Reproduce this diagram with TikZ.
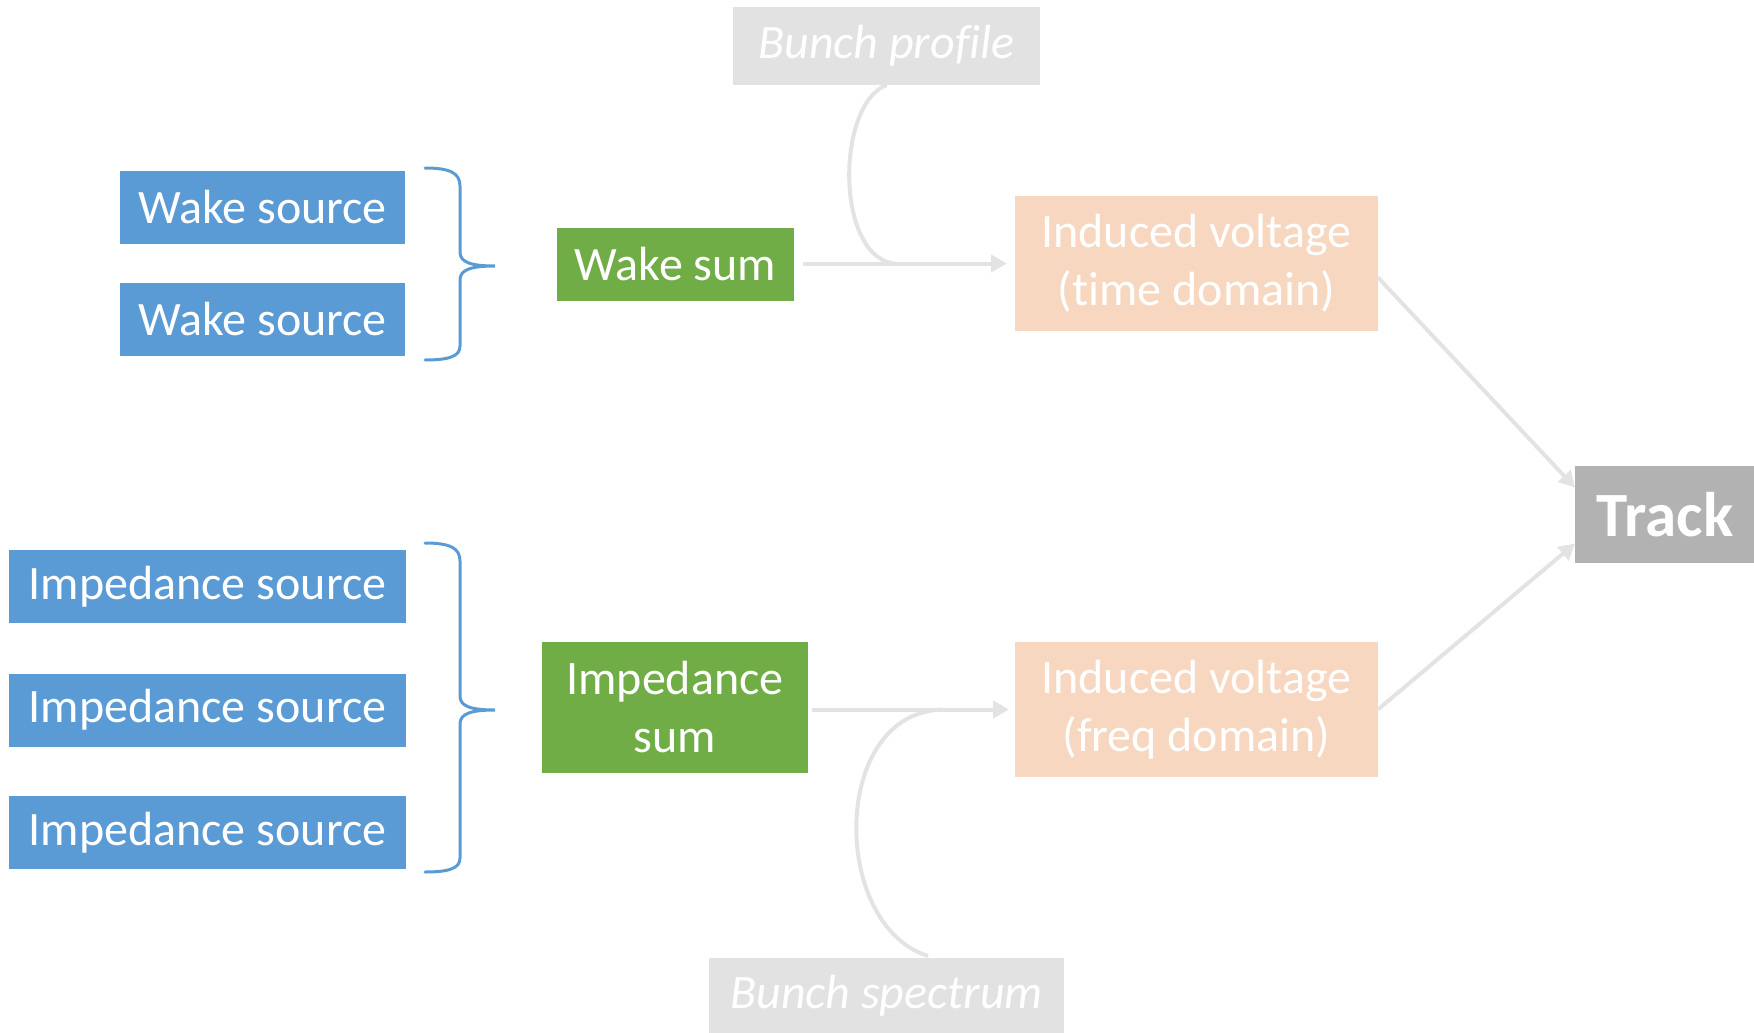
\documentclass[tikz,border=0pt]{standalone}
\usepackage{fontspec}
\setmainfont{Carlito}[Ligatures=NoCommon]
\usetikzlibrary{arrows.meta}
\definecolor{srcblue}{HTML}{5B9BD5}
\definecolor{sumgreen}{HTML}{70AD47}
\definecolor{voltpeach}{HTML}{F8D7C1}
\definecolor{bunchgray}{HTML}{E2E2E2}
\definecolor{trackgray}{HTML}{B2B2B2}
\definecolor{flowgray}{HTML}{E3E3E3}
\tikzset{
  box/.style={inner sep=0pt, outer sep=0pt, text=white, align=center,
    font=\fontsize{48}{58}\selectfont},
  srcbox/.style={box, fill=srcblue},
  sumbox/.style={box, fill=sumgreen},
  voltbox/.style={box, fill=voltpeach},
  bunchbox/.style={box, fill=bunchgray, font=\fontsize{48}{58}\selectfont\itshape},
  trackbox/.style={box, fill=trackgray, font=\fontsize{63}{70}\selectfont\bfseries},
  brace/.style={draw=srcblue, line width=3pt, line cap=round},
  flow/.style={draw=flowgray, line width=4pt},
  flowarrow/.style={flow, -{Triangle[length=16pt,width=17pt]}},
}
\begin{document}
\begin{tikzpicture}[x=1pt, y=-1pt]
\useasboundingbox (0,0) rectangle (1754,1033);

% source boxes
\node[srcbox, minimum width=285pt, minimum height=73pt] (ws1) at (262.5,207.5) {Wake source};
\node[srcbox, minimum width=285pt, minimum height=73pt] (ws2) at (262.5,319.5) {Wake source};
\node[srcbox, minimum width=397pt, minimum height=73pt] (is1) at (207.5,586.5) {Impedance source};
\node[srcbox, minimum width=397pt, minimum height=73pt] (is2) at (207.5,710) {Impedance source};
\node[srcbox, minimum width=397pt, minimum height=73pt] (is3) at (207.5,832.5) {Impedance source};

% sums
\node[sumbox, minimum width=237pt, minimum height=73pt] (wsum) at (675.5,264.5) {Wake sum};
\node[sumbox, minimum width=266pt, minimum height=131pt] (isum) at (675,707.5) {Impedance\\sum};

% induced voltages
\node[voltbox, minimum width=363pt, minimum height=135pt] (ivt) at (1196.5,263.5) {Induced voltage\\(time domain)};
\node[voltbox, minimum width=363pt, minimum height=135pt] (ivf) at (1196.5,709.5) {Induced voltage\\(freq domain)};

% bunch inputs
\node[bunchbox, minimum width=307pt, minimum height=78pt] (bp) at (886.5,46) {Bunch profile};
\node[bunchbox, minimum width=355pt, minimum height=76pt] (bs) at (886.5,996) {Bunch spectrum};

% track
\node[trackbox, minimum width=180pt, minimum height=97pt] (trk) at (1665,514.5) {Track};

% braces
\draw[brace] (425,168) .. controls (450,168) and (460,173) .. (460,186)
  -- (460,252) .. controls (460,262) and (470,266) .. (495,266)
  .. controls (470,266) and (460,270) .. (460,280)
  -- (460,346) .. controls (460,356) and (450,360) .. (425,360);
\draw[brace] (425,543) .. controls (450,543) and (460,548) .. (460,561)
  -- (460,696) .. controls (460,706) and (470,710) .. (495,710)
  .. controls (470,710) and (460,714) .. (460,724)
  -- (460,858) .. controls (460,868) and (450,872) .. (425,872);

% flow into the induced voltages
\coordinate (bpjoin) at (898,264);
\coordinate (bsjoin) at (943,709.5);
\draw[flowarrow] ([xshift=9pt]wsum.east |- ivt.west) -- ([xshift=-8pt]ivt.west);
\draw[flow] (bp.south) .. controls (835,105) and (835,262) .. (bpjoin);
\draw[flowarrow] ([xshift=4pt]isum.east |- ivf.west) -- ([xshift=-6pt]ivf.west);
\draw[flow] (928,956) .. controls (830,925) and (830,712) .. (bsjoin);

% flow into tracking
\draw[flowarrow] ([yshift=-14pt]ivt.east) -- ([yshift=27pt]trk.west);
\draw[flowarrow] (ivf.east) -- ([yshift=-29pt]trk.west);
\end{tikzpicture}
\end{document}
